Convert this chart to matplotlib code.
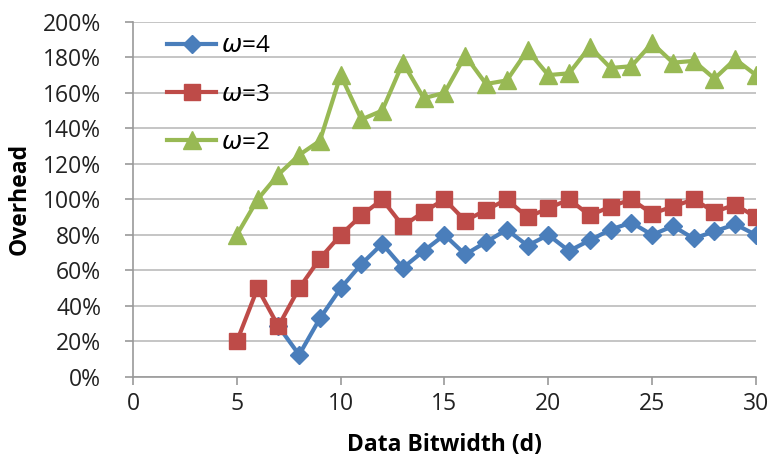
import matplotlib.pyplot as plt
from matplotlib.ticker import PercentFormatter

# data
d_w2 = list(range(5, 31))
w2 = [80, 100, 114, 125, 133, 170, 145, 150, 177, 157, 160, 181, 165, 167,
      184, 170, 171, 186, 174, 175, 188, 177, 178, 168, 179, 170]

d_w3 = list(range(5, 31))
w3 = [20, 50, 28.6, 50, 66.7, 80, 91, 100, 85, 93, 100, 88, 94, 100,
      90, 95, 100, 91, 96, 100, 92, 96, 100, 93, 97, 90]

d_w4 = list(range(7, 31))
w4 = [28.6, 12.5, 33, 50, 63.6, 75, 61.5, 71, 80, 69, 76, 83, 74, 80,
      71, 77, 83, 87, 80, 85, 78, 82, 86, 80]

plt.rcParams['font.family'] = ['Open Sans', 'DejaVu Sans']

fig = plt.figure(figsize=(7.71, 4.68), dpi=100)
ax = fig.add_axes([0.1725, 0.1944, 0.808, 0.759])

ax.plot(d_w4, w4, color='#4A7EBB', lw=3, marker='D', ms=9.5, label=r'$\omega$=4', zorder=3)
ax.plot(d_w3, w3, color='#BE4B48', lw=3, marker='s', ms=12, label=r'$\omega$=3', zorder=4)
ax.plot(d_w2, w2, color='#98B954', lw=3, marker='^', ms=12.5, label=r'$\omega$=2', zorder=5)

ax.set_xlim(0, 30)
ax.set_ylim(0, 200)
ax.set_xticks(range(0, 31, 5))
ax.set_yticks(range(0, 201, 20))
ax.yaxis.set_major_formatter(PercentFormatter(decimals=0))
ax.grid(axis='y', color='#BBBBBB', lw=1.2)
ax.set_axisbelow(True)
for s in ['top', 'right']:
    ax.spines[s].set_visible(False)
for s in ['left', 'bottom']:
    ax.spines[s].set_color('#999999')
    ax.spines[s].set_linewidth(1.2)
ax.tick_params(axis='both', colors='#999999', length=6, width=1.2,
               labelsize=16.5, labelcolor='#222222')
ax.tick_params(axis='y', pad=17)
ax.tick_params(axis='x', pad=5)

ax.set_xlabel('Data Bitwidth (d)', fontsize=16.5, fontweight='bold', labelpad=12)
ax.set_ylabel('Overhead', fontsize=16.5, fontweight='bold', labelpad=8)

leg = ax.legend(loc='upper left', bbox_to_anchor=(0.055, 0.965), frameon=False,
                fontsize=17.5, handlelength=2.0, labelspacing=1.0,
                handletextpad=0.2, borderpad=0, borderaxespad=0)

plt.savefig('out.png')
